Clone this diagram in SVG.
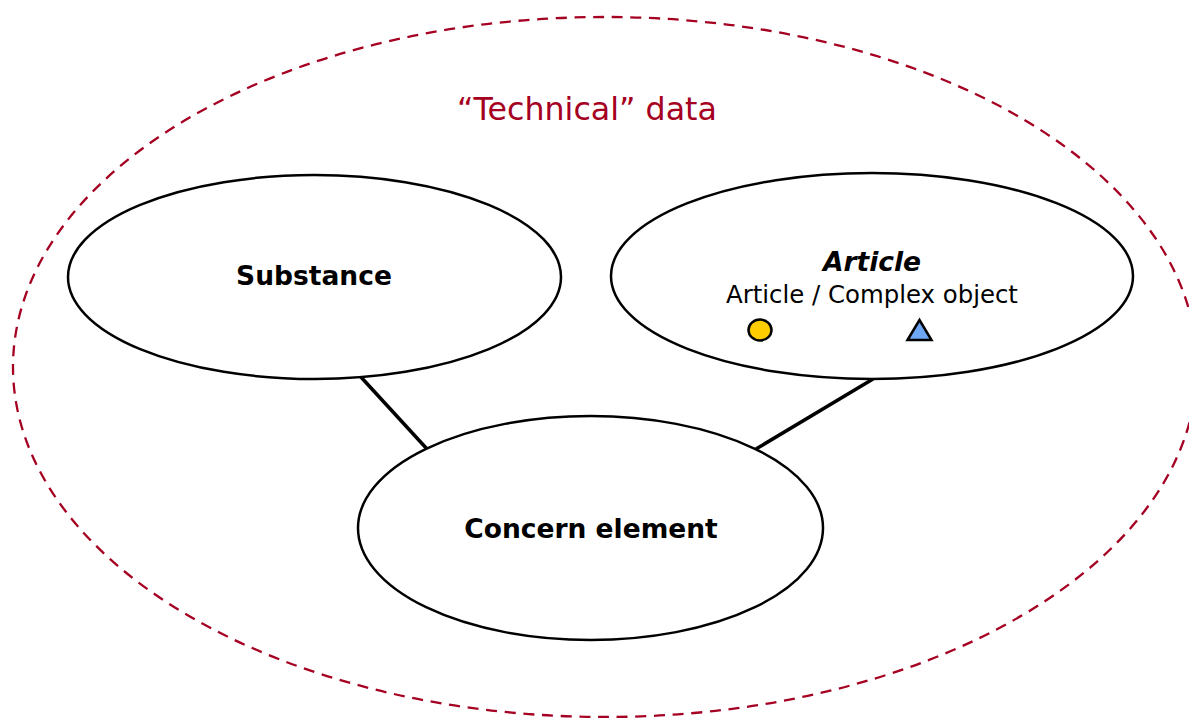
<svg xmlns="http://www.w3.org/2000/svg" width="1189" height="718" viewBox="0 0 1189 718">
<style>
.node{fill:#fff;stroke:#000;stroke-width:2.5}
.lbl{font-family:"DejaVu Sans",Verdana,sans-serif;fill:#000;text-anchor:middle}
.b{font-weight:bold;font-size:26.5px}
.conn{stroke:#000;stroke-width:3.5;fill:none}
</style>
<rect width="1189" height="718" fill="#fff"/>
<g id="technical-data">
<ellipse cx="605" cy="367" rx="592" ry="350" fill="none" stroke="#A50021" stroke-width="2.3" stroke-dasharray="11,7.7"/>
<text x="587" y="120" class="lbl" style="font-size:31.7px;fill:#A50021">“Technical” data</text>
</g>
<g id="connectors">
<line class="conn" x1="360" y1="376" x2="427" y2="449"/>
<line class="conn" x1="873" y1="379" x2="756" y2="449"/>
</g>
<g id="substance">
<ellipse class="node" cx="314.5" cy="277" rx="246.5" ry="102"/>
<text class="lbl b" x="314" y="285">Substance</text>
</g>
<g id="article">
<ellipse class="node" cx="872" cy="276" rx="261" ry="103"/>
<text class="lbl b" x="872" y="271" font-style="italic">Article</text>
<text class="lbl" x="872" y="303" style="font-size:24.4px">Article / Complex object</text>
<ellipse cx="760" cy="330" rx="11.5" ry="10.5" fill="#FFCC00" stroke="#000" stroke-width="2.5"/>
<polygon points="907.5,340 919.5,320 931.5,340" fill="#6CA6F5" stroke="#000" stroke-width="2.5" stroke-linejoin="miter"/>
</g>
<g id="concern-element">
<ellipse class="node" cx="590.5" cy="528" rx="232.5" ry="112"/>
<text class="lbl b" x="591" y="538">Concern element</text>
</g>
</svg>
